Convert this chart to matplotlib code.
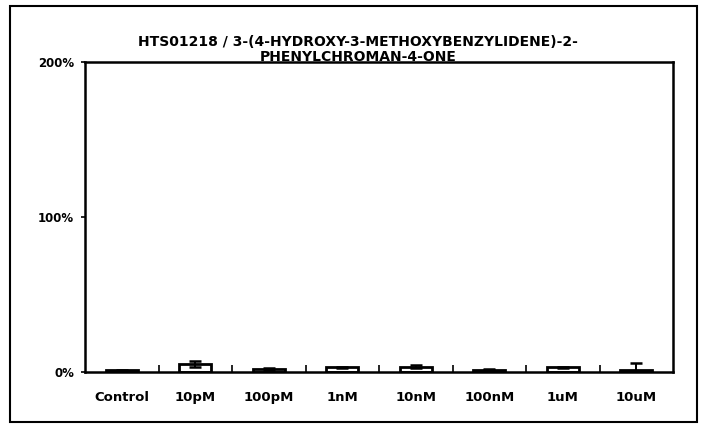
import matplotlib
matplotlib.use('Agg')
import matplotlib.pyplot as plt
import numpy as np
from matplotlib.patches import Rectangle

# values (% of control)
doses = ['Control', '10pM', '100pM', '1nM', '10nM', '100nM', '1uM', '10uM']
means = [1.0, 5.0, 2.0, 3.0, 3.5, 1.5, 3.0, 1.0]
errs = [0.5, 2.0, 0.5, 0.5, 0.8, 0.5, 0.5, 5.0]
yticks = [0, 100, 200]
ylabels = ['0%', '100%', '200%']

plt.rcParams['font.family'] = ['DejaVu Sans']
plt.rcParams['font.weight'] = 'bold'

W, H = 702, 428
fig = plt.figure(figsize=(W / 100, H / 100), dpi=100)
fig.patch.set_facecolor('white')

# outer frame of the chart object
fig.patches.append(Rectangle((10 / W, 6 / H), 687 / W, 416 / H, transform=fig.transFigure,
                             fill=False, lw=1.5, ec='black'))

ax = fig.add_axes([85 / W, 1 - 372 / H, (673 - 85) / W, (372 - 62) / H])
x = np.arange(len(doses))
ax.bar(x, means, width=0.43, color='white', edgecolor='black', lw=2,
       yerr=errs, error_kw=dict(ecolor='black', elinewidth=1.4, capsize=4, capthick=1.8))

ax.set_xlim(-0.5, len(doses) - 0.5)
ax.set_ylim(0, 200)
ax.set_yticks(yticks)
ax.set_yticklabels(ylabels, fontsize=8.5, fontweight='bold')
ax.set_xticks(x)
ax.set_xticklabels(doses, fontsize=9.5, fontweight='bold')
ax.set_xticks(np.arange(0.5, len(doses) - 1, 1), minor=True)
ax.tick_params(axis='x', which='major', length=0, pad=14)
ax.tick_params(axis='x', which='minor', direction='in', length=5, width=1.2)
ax.tick_params(axis='y', direction='out', length=3, width=1.2, pad=5)
for s in ax.spines.values():
    s.set_linewidth(1.8)

fig.text(358 / W, 1 - 42 / H, 'HTS01218 / 3-(4-HYDROXY-3-METHOXYBENZYLIDENE)-2-',
         ha='center', va='center', fontsize=10, fontweight='bold')
fig.text(358 / W, 1 - 57 / H, 'PHENYLCHROMAN-4-ONE',
         ha='center', va='center', fontsize=10, fontweight='bold')

fig.savefig('out.png', dpi=100)
